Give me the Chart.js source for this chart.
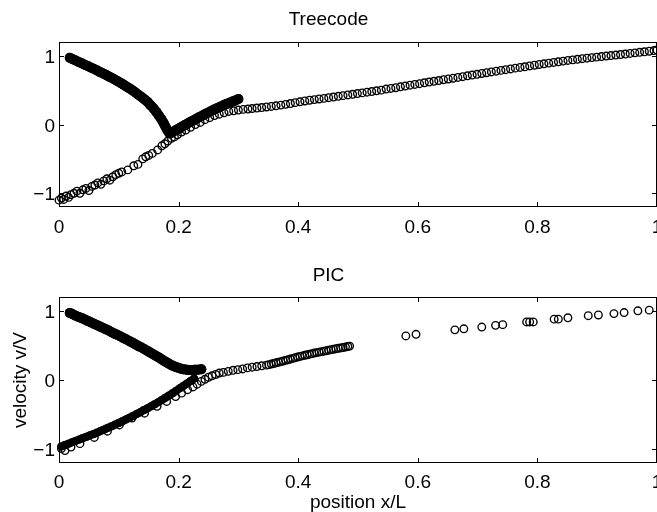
<!DOCTYPE html>
<html>
<head>
<meta charset="utf-8">
<script src="https://cdn.jsdelivr.net/npm/chart.js@4.4.0/dist/chart.umd.min.js"></script>
<style>
  html, body { margin: 0; padding: 0; background: #fff; }
  .panel { position: absolute; left: 0; width: 657px; }
  #treePanel { top: 0; height: 245px; }
  #picPanel { top: 250px; height: 262px; }
</style>
</head>
<body>
<div class="panel" id="treePanel"><canvas id="treeChart"></canvas></div>
<div class="panel" id="picPanel"><canvas id="picChart"></canvas></div>
<script>
const xTicks = [0, 0.2, 0.4, 0.6, 0.8, 1];
const yTicks = [-1, 0, 1];

// Treecode: dense (solid looking) V-shaped branch
const treeDenseX = [0.018, 0.023, 0.028, 0.033, 0.038, 0.043, 0.048, 0.053, 0.058, 0.063,
  0.068, 0.073, 0.078, 0.083, 0.088, 0.093, 0.098, 0.103, 0.108, 0.113,
  0.118, 0.123, 0.128, 0.133, 0.138, 0.143, 0.148, 0.153, 0.158, 0.163,
  0.167, 0.171, 0.175, 0.178, 0.181, 0.184,
  0.186, 0.190, 0.195, 0.200, 0.205, 0.210, 0.215, 0.220, 0.225, 0.230,
  0.235, 0.240, 0.245, 0.250, 0.255, 0.260, 0.265, 0.270, 0.275, 0.280,
  0.285, 0.290, 0.295, 0.300];
const treeDenseY = [0.97, 0.95, 0.93, 0.91, 0.89, 0.87, 0.85, 0.83, 0.81, 0.79,
  0.765, 0.745, 0.725, 0.70, 0.68, 0.655, 0.63, 0.605, 0.58, 0.55,
  0.525, 0.495, 0.465, 0.43, 0.40, 0.365, 0.33, 0.28, 0.235, 0.18,
  0.13, 0.08, 0.02, -0.03, -0.08, -0.12,
  -0.13, -0.11, -0.085, -0.06, -0.035, -0.01, 0.015, 0.04, 0.06, 0.085,
  0.11, 0.13, 0.155, 0.175, 0.20, 0.22, 0.24, 0.26, 0.28, 0.30,
  0.315, 0.335, 0.35, 0.37];

// Treecode: open circles
const treeOpenX = [0.000, 0.004, 0.008, 0.012, 0.016, 0.020, 0.025, 0.030, 0.035, 0.040,
  0.045, 0.050, 0.055, 0.060, 0.065, 0.070, 0.075, 0.080, 0.085, 0.090,
  0.095, 0.100, 0.105, 0.115, 0.125, 0.132, 0.140, 0.145, 0.150, 0.156,
  0.165, 0.172, 0.177, 0.182, 0.188, 0.193, 0.198, 0.205, 0.212, 0.220,
  0.228, 0.236, 0.244, 0.252, 0.260, 0.268, 0.276, 0.284, 0.292, 0.300,
  0.308, 0.316, 0.323, 0.331, 0.339, 0.347, 0.355, 0.363, 0.371, 0.379,
  0.387, 0.395, 0.403, 0.411, 0.419, 0.427, 0.435, 0.443, 0.451, 0.459,
  0.467, 0.475, 0.483, 0.491, 0.499, 0.507, 0.515, 0.523, 0.531, 0.539,
  0.547, 0.555, 0.563, 0.571, 0.579, 0.587, 0.595, 0.603, 0.611, 0.619,
  0.627, 0.635, 0.643, 0.651, 0.659, 0.667, 0.675, 0.683, 0.691, 0.699,
  0.707, 0.715, 0.723, 0.731, 0.739, 0.747, 0.755, 0.763, 0.771, 0.779,
  0.787, 0.795, 0.803, 0.811, 0.819, 0.827, 0.835, 0.843, 0.851, 0.859,
  0.867, 0.875, 0.883, 0.891, 0.899, 0.907, 0.915, 0.923, 0.931, 0.939,
  0.947, 0.955, 0.963, 0.971, 0.979, 0.987, 0.995, 1.000];
const treeOpenY = [-1.10, -1.07, -1.09, -1.04, -1.06, -1.02, -1.00, -0.97, -1.00, -0.95,
  -0.93, -0.96, -0.90, -0.88, -0.85, -0.87, -0.82, -0.79, -0.81, -0.76,
  -0.73, -0.71, -0.69, -0.66, -0.60, -0.58, -0.50, -0.47, -0.45, -0.42,
  -0.37, -0.31, -0.28, -0.24, -0.20, -0.18, -0.15, -0.11, -0.08, -0.04,
  0.00, 0.03, 0.07, 0.10, 0.13, 0.15, 0.17, 0.19, 0.20, 0.21,
  0.22, 0.225, 0.232, 0.24, 0.247, 0.255, 0.263, 0.272, 0.282, 0.293,
  0.305, 0.318, 0.33, 0.342, 0.353, 0.362, 0.371, 0.38, 0.39, 0.40,
  0.41, 0.42, 0.43, 0.44, 0.45, 0.46, 0.47, 0.48, 0.49, 0.50,
  0.515, 0.525, 0.535, 0.548, 0.56, 0.572, 0.583, 0.594, 0.606, 0.618,
  0.629, 0.64, 0.651, 0.662, 0.673, 0.685, 0.696, 0.708, 0.72, 0.73,
  0.742, 0.753, 0.765, 0.776, 0.787, 0.797, 0.808, 0.82, 0.83, 0.84,
  0.852, 0.862, 0.873, 0.883, 0.893, 0.903, 0.912, 0.922, 0.932, 0.94,
  0.948, 0.957, 0.965, 0.973, 0.98, 0.988, 0.995, 1.003, 1.01, 1.018,
  1.025, 1.034, 1.042, 1.05, 1.058, 1.066, 1.075, 1.085];

// PIC: dense upper branch
const picUpperX = [0.018, 0.023, 0.028, 0.033, 0.038, 0.043, 0.048, 0.053, 0.058, 0.063,
  0.068, 0.073, 0.078, 0.083, 0.088, 0.093, 0.098, 0.103, 0.108, 0.113,
  0.118, 0.123, 0.128, 0.133, 0.138, 0.143, 0.148, 0.153, 0.158, 0.163,
  0.168, 0.173, 0.178, 0.183, 0.188, 0.193, 0.198, 0.203, 0.208, 0.213,
  0.218, 0.223, 0.228, 0.233, 0.238];
const picUpperY = [0.97, 0.95, 0.93, 0.91, 0.895, 0.875, 0.855, 0.835, 0.815, 0.795,
  0.775, 0.755, 0.735, 0.715, 0.69, 0.67, 0.65, 0.63, 0.605, 0.585,
  0.56, 0.54, 0.515, 0.49, 0.47, 0.445, 0.42, 0.395, 0.37, 0.345,
  0.32, 0.29, 0.265, 0.24, 0.215, 0.195, 0.18, 0.165, 0.155, 0.15,
  0.145, 0.145, 0.15, 0.15, 0.155];

// PIC: dense lower branch
const picLowerX = [0.004, 0.010, 0.016, 0.022, 0.028, 0.034, 0.040, 0.046, 0.052, 0.058,
  0.064, 0.070, 0.076, 0.082, 0.088, 0.094, 0.100, 0.106, 0.112, 0.118,
  0.124, 0.130, 0.136, 0.142, 0.148, 0.154, 0.160, 0.166, 0.172, 0.178,
  0.184, 0.190, 0.196, 0.202, 0.208, 0.214, 0.220, 0.226];
const picLowerY = [-0.96, -0.94, -0.92, -0.90, -0.88, -0.86, -0.84, -0.82, -0.80, -0.78,
  -0.76, -0.735, -0.715, -0.69, -0.67, -0.645, -0.62, -0.595, -0.57, -0.545,
  -0.52, -0.49, -0.465, -0.435, -0.41, -0.38, -0.35, -0.32, -0.29, -0.255,
  -0.225, -0.19, -0.155, -0.12, -0.085, -0.05, -0.015, 0.02];

// PIC: open circles
const picOpenX = [0.004, 0.010, 0.020, 0.035, 0.059, 0.081, 0.101, 0.122, 0.143, 0.164,
  0.180, 0.195, 0.205, 0.215, 0.224, 0.231, 0.238, 0.244, 0.250, 0.256,
  0.262, 0.268, 0.275, 0.283, 0.291, 0.299, 0.307, 0.315, 0.323, 0.331,
  0.339, 0.347, 0.351, 0.355, 0.359, 0.363, 0.367, 0.371, 0.375, 0.379,
  0.383, 0.387, 0.391, 0.395, 0.399, 0.403, 0.407, 0.411, 0.415, 0.419,
  0.423, 0.427, 0.431, 0.435, 0.439, 0.443, 0.447, 0.451, 0.455, 0.459,
  0.463, 0.467, 0.471, 0.475, 0.479, 0.483, 0.486,
  0.580, 0.597, 0.662, 0.677, 0.707, 0.730, 0.742, 0.782, 0.787, 0.793,
  0.828, 0.835, 0.851, 0.885, 0.902, 0.928, 0.945, 0.968, 0.987];
const picOpenY = [-0.99, -1.02, -0.97, -0.92, -0.83, -0.74, -0.65, -0.55, -0.48, -0.38,
  -0.31, -0.24, -0.19, -0.14, -0.10, -0.06, -0.02, 0.01, 0.04, 0.06,
  0.08, 0.10, 0.11, 0.125, 0.14, 0.15, 0.16, 0.175, 0.185, 0.195,
  0.205, 0.215, 0.222, 0.23, 0.239, 0.248, 0.257, 0.266, 0.275, 0.284,
  0.293, 0.303, 0.313, 0.323, 0.333, 0.341, 0.349, 0.357, 0.365, 0.373,
  0.381, 0.389, 0.396, 0.403, 0.41, 0.417, 0.424, 0.431, 0.438, 0.445,
  0.452, 0.458, 0.464, 0.47, 0.477, 0.484, 0.49,
  0.637, 0.66, 0.725, 0.74, 0.765, 0.79, 0.80, 0.84, 0.84, 0.84,
  0.88, 0.88, 0.90, 0.93, 0.94, 0.96, 0.975, 1.0, 1.01];

const FONT = '"Liberation Sans", Arial, Helvetica, sans-serif';
Chart.defaults.font.family = FONT;
Chart.defaults.font.size = 19;
Chart.defaults.color = '#000';

function points(xs, ys) {
  return xs.map((x, i) => ({ x: x, y: ys[i] }));
}

// packed markers: drawn as a fat round-capped line through the points
function denseSet(data, width) {
  return {
    data: data,
    showLine: true,
    borderColor: '#000',
    borderWidth: width,
    borderCapStyle: 'round',
    borderJoinStyle: 'round',
    pointRadius: width / 2,
    pointBorderWidth: 0,
    pointBackgroundColor: '#000',
    clip: false
  };
}

function openSet(data) {
  return {
    data: data,
    pointRadius: 3.8,
    pointBorderWidth: 1.35,
    pointBorderColor: '#000',
    pointBackgroundColor: 'rgba(0,0,0,0)',
    clip: false
  };
}

// axes box with inward ticks on all four sides, like matlab
const boxPlugin = {
  id: 'box',
  afterDatasetsDraw(chart) {
    const { ctx, chartArea: a, scales } = chart;
    ctx.save();
    ctx.strokeStyle = '#000';
    ctx.lineWidth = 1;
    ctx.strokeRect(a.left + 0.5, a.top + 0.5, a.right - a.left - 1, a.bottom - a.top - 1);
    ctx.beginPath();
    xTicks.forEach(v => {
      const px = Math.round(scales.x.getPixelForValue(v)) + 0.5;
      ctx.moveTo(px, a.bottom); ctx.lineTo(px, a.bottom - 5);
      ctx.moveTo(px, a.top); ctx.lineTo(px, a.top + 5);
    });
    yTicks.forEach(v => {
      const py = Math.round(scales.y.getPixelForValue(v)) + 0.5;
      ctx.moveTo(a.left, py); ctx.lineTo(a.left + 5, py);
      ctx.moveTo(a.right, py); ctx.lineTo(a.right - 5, py);
    });
    ctx.stroke();
    ctx.restore();
  }
};

function makeChart(id, title, titlePad, datasets, opts) {
  return new Chart(document.getElementById(id), {
    type: 'scatter',
    data: { datasets: datasets },
    options: {
      responsive: true,
      maintainAspectRatio: false,
      animation: false,
      events: [],
      layout: { padding: 0, autoPadding: false },
      plugins: {
        legend: { display: false },
        tooltip: { enabled: false },
        title: {
          display: true,
          text: title,
          color: '#000',
          font: { size: 19, weight: 'normal' },
          padding: titlePad
        }
      },
      scales: {
        x: {
          type: 'linear',
          min: 0,
          max: 1,
          afterBuildTicks: s => { s.ticks = xTicks.map(v => ({ value: v })); },
          afterFit: s => { s.height = opts.xHeight; s.paddingLeft = 0; s.paddingRight = 0; },
          grid: { display: false, drawTicks: false },
          border: { display: false },
          ticks: { padding: opts.xPad, maxRotation: 0, autoSkip: false, callback: v => String(v) },
          title: {
            display: !!opts.xTitle,
            text: opts.xTitle || '',
            font: { size: 19 },
            padding: { top: 0, bottom: -2 }
          }
        },
        y: {
          type: 'linear',
          min: -1.2,
          max: 1.2,
          afterBuildTicks: s => { s.ticks = yTicks.map(v => ({ value: v })); },
          afterFit: s => { s.width = 59; s.paddingTop = 0; s.paddingBottom = 0; },
          grid: { display: false, drawTicks: false },
          border: { display: false },
          ticks: {
            padding: 4,
            labelOffset: 2,
            callback: v => (v < 0 ? '\u2212' + Math.abs(v) : String(v))
          },
          title: {
            display: !!opts.yTitle,
            text: opts.yTitle || '',
            font: { size: 19 },
            padding: { top: 9.5, bottom: 0 }
          }
        }
      }
    },
    plugins: [boxPlugin]
  });
}

makeChart('treeChart', 'Treecode', { top: 8, bottom: 11.2 }, [
  denseSet(points(treeDenseX, treeDenseY), 10),
  openSet(points(treeOpenX, treeOpenY))
], { xHeight: 38, xPad: 9 });

makeChart('picChart', 'PIC', { top: 14, bottom: 10.2 }, [
  denseSet(points(picUpperX, picUpperY), 10),
  denseSet(points(picLowerX, picLowerY), 8),
  openSet(points(picOpenX, picOpenY))
], { xHeight: 49, xPad: 8, xTitle: 'position x/L', yTitle: 'velocity v/V' });
</script>
</body>
</html>
